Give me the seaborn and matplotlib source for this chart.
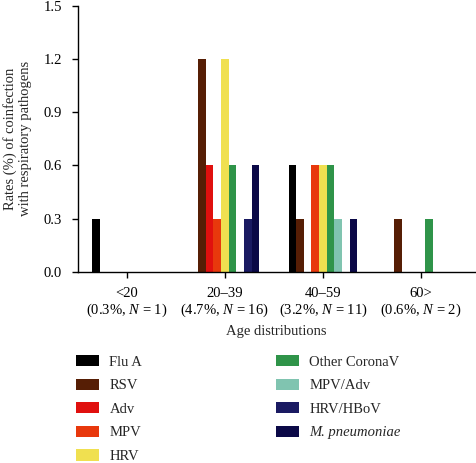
import numpy as np
import pandas as pd
import matplotlib
matplotlib.use("Agg")
import matplotlib.pyplot as plt
import seaborn as sns
from matplotlib.patches import Patch

groups = ["<20\n(0.3%, $N$ = 1)", "20–39\n(4.7%, $N$ = 16)",
          "40–59\n(3.2%, $N$ = 11)", "60>\n(0.6%, $N$ = 2)"]
pathogens = ["Flu A", "RSV", "Adv", "MPV", "HRV", "Other CoronaV",
             "MPV/Adv", "HRV/HBoV", "M. pneumoniae"]
colors = ["#000000", "#561e05", "#e0100e", "#e8380c", "#f0e050",
          "#2f9449", "#80c4b0", "#1a1a62", "#0b0947"]
flu_a = [0.3, 0.0, 0.6, 0.0]
rsv = [0.0, 1.2, 0.3, 0.3]
adv = [0.0, 0.6, 0.0, 0.0]
mpv = [0.0, 0.3, 0.6, 0.0]
hrv = [0.0, 1.2, 0.6, 0.0]
other_corona = [0.0, 0.6, 0.6, 0.3]
mpv_adv = [0.0, 0.0, 0.3, 0.0]
hrv_hbov = [0.0, 0.3, 0.0, 0.0]
m_pneu = [0.0, 0.6, 0.3, 0.0]
series = [flu_a, rsv, adv, mpv, hrv, other_corona, mpv_adv, hrv_hbov, m_pneu]

rows = []
for p, vals in zip(pathogens, series):
    for g, v in zip(groups, vals):
        rows.append({"group": g, "pathogen": p, "rate": v})
df = pd.DataFrame(rows)

sns.set_style("ticks")
plt.rcParams["font.family"] = ["Liberation Serif", "DejaVu Serif"]
plt.rcParams["mathtext.fontset"] = "custom"
plt.rcParams["mathtext.rm"] = "Liberation Serif"
plt.rcParams["mathtext.it"] = "Liberation Serif:italic"
fs = 10.5

fig = plt.figure(figsize=(4.76, 4.63), dpi=100)
ax = fig.add_axes([0.163, 0.413, 0.835, 0.574])
sns.barplot(data=df, x="group", y="rate", hue="pathogen", order=groups,
            hue_order=pathogens, palette=colors, width=0.7, linewidth=0,
            saturation=1, ax=ax, legend=False)
ax.set_xlim(-0.5, 3.55)
ax.set_ylim(0, 1.5)
ax.set_yticks([0, 0.3, 0.6, 0.9, 1.2, 1.5])
ax.set_yticklabels(["0.0", "0.3", "0.6", "0.9", "1.2", "1.5"])
ax.tick_params(axis="y", labelsize=fs, length=4.3, width=1, pad=7, direction="out", colors="black")
ax.tick_params(axis="x", labelsize=fs, length=4.3, width=1, pad=7, direction="out", colors="black")
for lbl in ax.get_xticklabels():
    lbl.set_linespacing(1.1)
for s in ["left", "bottom"]:
    ax.spines[s].set_linewidth(1)
    ax.spines[s].set_color("black")
sns.despine(ax=ax)
ax.set_xlabel("Age distributions", fontsize=fs, labelpad=4.5)
ax.set_ylabel("Rates (%) of coinfection\nwith respiratory pathogens", fontsize=fs, labelpad=8)

handles = [Patch(facecolor=c, edgecolor="none") for c in colors]
leg = fig.legend(handles, pathogens, loc="upper left",
                 bbox_to_anchor=(0.132, 1 - 342 / 463), ncol=2, frameon=False,
                 fontsize=fs, handlelength=1.6, handleheight=0.8,
                 handletextpad=0.7, labelspacing=0.68, columnspacing=9.15)
leg.get_texts()[8].set_style("italic")

fig.savefig("out.png", dpi=100)
